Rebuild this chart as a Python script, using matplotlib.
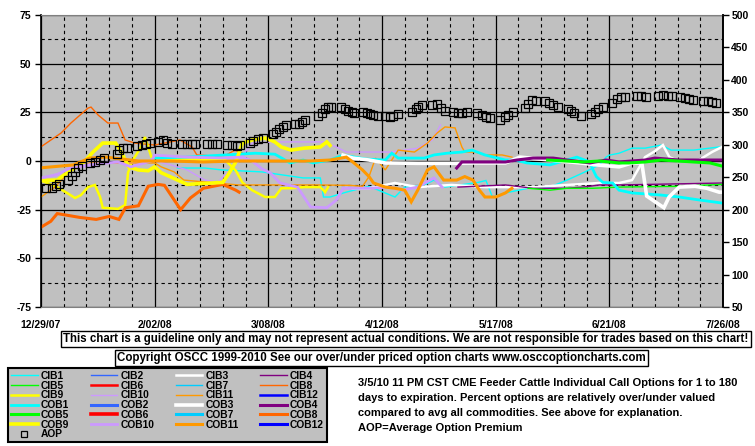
import matplotlib
matplotlib.use("Agg")
import matplotlib.pyplot as plt
from matplotlib.ticker import MultipleLocator
from matplotlib.lines import Line2D

plt.rcParams['font.family'] = ['Liberation Sans', 'DejaVu Sans']
plt.rcParams['font.weight'] = 'bold'
plt.rcParams['axes.unicode_minus'] = False
FS = 7.5

# ── data: x = days since 12/29/07, left axis = % over/under, right axis = AOP ──
x_labels = ['12/29/07', '2/02/08', '3/08/08', '4/12/08', '5/17/08', '6/21/08', '7/26/08']
x_ticks = [0, 35, 70, 105, 140, 175, 210]

cib1_days = [42, 50.5, 55.7, 68, 80.7, 86, 87, 89, 91, 94, 101, 109, 112, 118, 121, 124.4, 134.6, 137, 139, 143,
             150, 156.7, 162, 167, 172, 174, 175, 178, 182, 186, 191, 194, 201, 208.8, 210]
cib1_vals = [-3.6, -3.6, -4.6, -5.6, -8.7, -8.7, -18.5, -18.5, -17.5, -16, -13, -18.5, -13.4, -12.3, -9.8, -13.4, -11, -10, -18.5, -16.4,
             -14, -13.4, -9.8, -6, -2, 2, 3, 4, 6.6, 6.6, 8.2, 5.6, 5.6, 7.2, 7.2]
cob1_days = [35, 45, 55.7, 66, 72, 73.6, 76.7, 80.7, 83.8, 89, 93, 100, 106, 108, 110, 118, 121, 125, 129.6, 132.7,
             136.7, 143, 146, 149.6, 156.7, 165, 169, 170, 171, 173, 176, 178, 182, 191, 196.5, 202.6, 209.7]
cob1_vals = [1.5, 2, 3, 4, 3.5, 2, -1, 0.5, -1, 0.5, 3, 1, 0.5, 4, 1.5, 1.5, 3.1, 4, 4.6, 5.6,
             3.1, 0.5, 0.5, -1, -2, 2, -0.5, -4.6, -8, -11, -11.3, -15, -16.4, -17.5, -18.5, -20, -21.6]

cib3_days = [96, 101, 109, 116, 126.5, 136.7, 141, 151.5, 162, 172, 178, 182, 186, 189, 191.5, 193.5, 196, 202.6, 206.6, 209.7]
cib3_vals = [-14, -14, -11.3, -13.4, -12.3, -13.4, -13.4, -13.4, -12.3, -11.3, -11.3, -9.8, 2, 5, 8.2, 2, 0, 0.5, 4.6, 7.2]
cob3_days = [93, 96, 101, 106, 116, 126.5, 133, 143, 147.5, 156.7, 166, 171, 178, 182, 185, 186.5, 191.8, 193.4, 196.5, 201.4, 205, 208.8, 210]
cob3_vals = [3, 1.5, 0.5, -1, -1.2, -1.2, -1, -1, 2, 0.5, -1, -2, -3, -1, -1, -18, -24, -18.5, -13.4, -13, -14, -16, -16]

cib4_days = [128.4, 143, 151.5, 162, 167, 172, 178, 210]
cib4_vals = [-13.4, -12.3, -14, -14, -13.4, -12.3, -12.3, -11.3]
cob4_days = [128, 129.6, 136.7, 143, 146.5, 151.5, 157.7, 162, 169, 174, 178, 186, 189, 196.5, 210]
cob4_vals = [-3.6, -0.5, -0.5, -0.5, 0.5, 1.5, 1.5, 0.5, -1, 0.5, -0.5, 0.5, 1.5, 0.5, 0.5]

cib5_days = [150, 156.7, 162, 170, 178, 196.5, 210]
cib5_vals = [-14, -15, -14, -14, -13.4, -13, -12]
cob5_days = [156, 167, 172, 178, 181, 186, 191, 201, 206, 209.7]
cob5_vals = [0.5, -0.5, 0, -1, -1, -0.5, 0.5, -0.5, -1, -2.6]

cib8_days = [0, 6.2, 9.2, 14.5, 15.4, 17.6, 20.6, 23.7, 25.9, 28.9, 35, 42.8, 46.5, 48, 53.6, 57, 59.7, 62]
cib8_vals = [7.3, 14.4, 19.5, 27.2, 27.7, 23.6, 19.5, 19.5, 10.8, 9.2, 8.2, 10.8, 7.2, 3.1, 2.5, 3, 5.6, 4]
cob8_days = [0, 3, 5, 12, 17, 21, 24, 26, 30, 33, 36, 38, 41, 43, 46, 50, 56, 60, 61]
cob8_vals = [-34, -31, -27, -29, -30, -28.5, -30, -24, -23, -13, -12, -12.5, -20, -25, -19, -14, -12, -15, -16]

cib9_days = [0, 5, 8, 10.5, 12.3, 14.5, 16.6, 18.2, 19, 23.7, 25.9, 26.8, 28.3, 30.8, 32, 34, 40, 45, 50, 56.7,
             60, 62, 65, 69, 72, 74, 77, 81, 86, 87.5, 88.4]
cib9_vals = [-10, -13.4, -16.4, -19, -17.5, -13.4, -12.3, -18.5, -24, -24.6, -22.6, -6, 0.5, 7.2, 12.3, 2, 1, 1, 0.5, 0.5,
             -5, -11, -15, -18.5, -18.5, -14, -14, -13.4, -13.4, -16, -13.4]
cob9_days = [0, 5, 8, 13, 16, 19, 23, 24, 26, 27, 30, 33, 35, 37, 45, 56, 58, 60, 62, 65, 69, 72, 74, 77, 81, 86, 88, 89]
cob9_vals = [-10, -9.8, -6, -1, 4.6, 9.2, 9.2, 6.6, 0.5, -3, -4.6, -5, -3, -6, -12, -11, -6, -0.5, 9.2, 10.8, 11.8, 9.8,
             7.2, 5.6, 6.6, 7.2, 9.8, 8]

cib10_days = [0, 10, 20, 30, 35, 40, 45, 50.5, 54.5, 60.7, 65, 72, 75.7, 87, 91, 94, 101, 107.5, 116, 120.5, 123]
cib10_vals = [-9, -4, -1, -1, 0, -2, -4.6, -9.8, -10.8, -0.5, 9.2, 9.8, 9.8, 9.8, 7.2, 4.6, 4.6, 4.6, 6.6, 10.8, 18.5]
cob10_days = [0, 5, 9, 14.5, 23.7, 27.7, 34, 35, 45, 55.7, 62, 65, 68, 70.5, 73.6, 79, 81, 83, 88, 91, 93, 101,
              107.5, 111, 116, 121, 123.5]
cob10_vals = [-8.7, -7, -3.6, -2, -0.5, -3, 0, 3, 2, 1.5, 2, 0, -4, -6, -11.3, -13.4, -18.5, -23.6, -24, -20, -14, -14,
              -13.4, -15, -13.4, -8.7, -13.4]

cib11_days = [0, 4.3, 9, 15, 25, 35, 37, 41, 44, 50.5, 60.7, 72, 85, 95, 99, 101, 103, 106, 110, 115, 119, 122,
              124.4, 127.5, 129.6, 130.5, 133.6, 136.7, 142, 145]
cib11_vals = [-18.5, -13.4, -5, -1, -1, -1, -3, -5.6, -9.8, -10.8, -12.3, -12.3, -12.3, -12.5, -13, -8, 1.5, -4.6, 5.6,
              4.6, 9.2, 14.4, 17.5, 17, 7.2, 4.6, 4.6, 3.1, 3.1, 2]
cob11_days = [0, 10, 15, 20, 30, 40, 50, 60, 70.5, 83, 89, 94, 96, 99, 101, 102.4, 106, 109, 112, 114, 116, 119, 121,
              124, 128, 130.5, 133, 135, 136.7, 140, 143, 145]
cob11_vals = [-3.5, -2, 1.5, 2, 0, 0, -0.5, 0, 0, 0, 0.5, 2, -0.5, -4.6, -8, -11.3, -13.4, -14, -15, -21, -15, -4.6, -3,
              -9.8, -9.8, -8, -9.8, -15, -18.5, -18.5, -16.4, -14]

aop_days = [1.5, 3.4, 4.6, 5.5, 8.3, 9.5, 10.5, 11.4, 12.6, 15.1, 16.6, 18.2, 19.4, 23.4, 24.0, 25.2, 26.5, 29.6, 31.1,
            32.3, 33.6, 36.0, 37.6, 38.8, 40.3, 43.4, 45.0, 46.5, 47.4, 51.1, 52.7, 54.2, 57.3, 58.8, 60.4, 61.3, 64.4,
            65.3, 66.8, 68.4, 71.4, 72.4, 73.3, 74.5, 75.4, 78.2, 79.4, 80.4, 81.3, 85.3, 86.5, 87.4, 88.4, 89.3, 92.4,
            93.6, 94.5, 95.8, 96.4, 99.2, 100.4, 101.3, 102.2, 103.8, 105.9, 107.5, 108.4, 109.9, 114.2, 115.5, 116.1,
            117.3, 120.4, 121.9, 123.2, 124.4, 126.9, 128.4, 129.6, 131.2, 134.3, 135.8, 137.0, 138.3, 141.3, 142.9,
            143.8, 145.3, 149.0, 150.0, 151.2, 152.4, 155.2, 156.4, 157.7, 159.2, 162.3, 163.2, 164.1, 166.3, 169.4,
            170.6, 171.5, 173.1, 175.8, 177.4, 178.6, 179.8, 183.5, 184.8, 186.3, 190.0, 191.5, 193.1, 194.3, 196.8,
            198.3, 199.5, 200.8, 203.8, 205.4, 206.6, 207.9]
aop_vals = [233, 233, 236, 240, 246, 252, 258, 264, 267, 272, 273, 276, 280, 286, 292, 295, 295, 298, 300,
            301, 303, 304, 307, 303, 301, 301, 301, 301, 301, 301, 301, 301, 300, 300, 298, 300, 303,
            306, 309, 310, 317, 320, 324, 327, 330, 332, 332, 335, 338, 344, 349, 355, 358, 358, 358,
            355, 352, 350, 349, 350, 349, 347, 346, 344, 344, 343, 344, 347, 350, 355, 358,
            361, 361, 363, 357, 352, 350, 349, 349, 350, 349, 346, 343, 341, 338, 343,
            346, 350, 356, 363, 369, 367, 367, 364, 361, 358, 355, 352, 349, 344, 347,
            350, 355, 358, 364, 371, 374, 374, 375, 375, 374, 375, 377, 375, 375, 374,
            372, 370, 369, 367, 367, 366, 364]

series = [
    ('CIB1', cib1_days, cib1_vals), ('CIB2', [], []), ('CIB3', cib3_days, cib3_vals), ('CIB4', cib4_days, cib4_vals),
    ('CIB5', cib5_days, cib5_vals), ('CIB6', [], []), ('CIB7', [], []), ('CIB8', cib8_days, cib8_vals),
    ('CIB9', cib9_days, cib9_vals), ('CIB10', cib10_days, cib10_vals), ('CIB11', cib11_days, cib11_vals), ('CIB12', [], []),
    ('COB1', cob1_days, cob1_vals), ('COB2', [], []), ('COB3', cob3_days, cob3_vals), ('COB4', cob4_days, cob4_vals),
    ('COB5', cob5_days, cob5_vals), ('COB6', [], []), ('COB7', [], []), ('COB8', cob8_days, cob8_vals),
    ('COB9', cob9_days, cob9_vals), ('COB10', cob10_days, cob10_vals), ('COB11', cob11_days, cob11_vals), ('COB12', [], []),
]
colors = ['#00FFFF', '#3366FF', '#FFFFFF', '#800080', '#00FF00', '#FF0000',
          '#00CCFF', '#FF6600', '#FFFF00', '#CC99FF', '#FF9900', '#0000FF']
thin_w = [1.0, 1.0, 1.8, 1.0, 1.0, 1.8, 1.0, 1.0, 1.8, 1.0, 1.0, 1.8]
thick_w = [2.0, 2.2, 2.6, 2.2, 2.2, 2.6, 2.2, 2.2, 2.6, 2.0, 2.2, 2.2]

# ── figure ──
fig = plt.figure(figsize=(7.55, 4.46), dpi=100)
ax = fig.add_axes([41 / 755, 1 - 307 / 446, 682 / 755, 292 / 446])
ax.set_facecolor('#C0C0C0')
ax.set_xlim(0, 210)
ax.set_ylim(-75, 75)
ax.set_xticks(x_ticks, x_labels, fontsize=FS)
ax.xaxis.set_minor_locator(MultipleLocator(7))
ax.yaxis.set_major_locator(MultipleLocator(25))
ax.yaxis.set_minor_locator(MultipleLocator(12.5))
ax.tick_params(axis='x', which='both', length=0, pad=9)
ax.tick_params(axis='y', which='major', length=4, width=1, pad=3, labelsize=FS)
ax.tick_params(axis='y', which='minor', length=0)
ax.set_axisbelow(True)
ax.grid(which='major', color='black', lw=0.9, ls='-')
ax.grid(which='minor', color='black', lw=0.8, ls=(0, (3, 3)))
for s in ['top', 'bottom']:
    ax.spines[s].set_color('#808080')
ax.spines['left'].set_linewidth(1.2)
ax.spines['right'].set_linewidth(1.2)

handles = {}
for i, (name, d, v) in enumerate(series):
    k = i % 12
    lw = thin_w[k] if name.startswith('CIB') else thick_w[k]
    line, = ax.plot(d, v, color=colors[k], lw=lw, solid_joinstyle='miter')
    handles[name] = line

ax2 = ax.twinx()
ax2.set_ylim(50, 500)
ax2.yaxis.set_major_locator(MultipleLocator(50))
ax2.tick_params(axis='y', length=4, width=1, pad=2, labelsize=FS)
for s in ['top', 'bottom', 'left']:
    ax2.spines[s].set_visible(False)
ax2.spines['right'].set_linewidth(1.2)
aop, = ax2.plot(aop_days, aop_vals, ls='none', marker='s', ms=5.3, mfc='none', mec='black', mew=0.9)
handles['AOP'] = Line2D([], [], ls='none', marker='s', ms=4, mfc='none', mec='black', mew=0.9)

# legend laid out row by row like the original (4 columns)
order = ['CIB1', 'CIB5', 'CIB9', 'COB1', 'COB5', 'COB9', 'AOP',
         'CIB2', 'CIB6', 'CIB10', 'COB2', 'COB6', 'COB10',
         'CIB3', 'CIB7', 'CIB11', 'COB3', 'COB7', 'COB11',
         'CIB4', 'CIB8', 'CIB12', 'COB4', 'COB8', 'COB12']
leg = fig.legend([handles[n] for n in order], order, loc='upper left', ncol=4, mode='expand',
                 bbox_to_anchor=(8 / 755, 1 - 441 / 446, 319 / 755, 73 / 446), borderaxespad=0,
                 fontsize=7.4, handlelength=2.6, handletextpad=0.3, labelspacing=-0.03, borderpad=0.3,
                 fancybox=False, framealpha=1, facecolor='#C0C0C0', edgecolor='black')
leg.get_frame().set_linewidth(1.5)

fig.text(406 / 755, 1 - 339 / 446,
         'This chart is a guideline only and may not represent actual conditions. We are not responsible for trades based on this chart!',
         ha='center', va='center', fontsize=8.3,
         bbox=dict(boxstyle='square,pad=0.2', fc='white', ec='black', lw=1))
fig.text(381.5 / 755, 1 - 358 / 446,
         'Copyright OSCC 1999-2010 See our over/under priced option charts www.osccoptioncharts.com',
         ha='center', va='center', fontsize=8.3,
         bbox=dict(boxstyle='square,pad=0.2', fc='white', ec='black', lw=1))

note_lines = ['3/5/10 11 PM CST CME Feeder Cattle Individual Call Options for 1 to 180',
              'days to expiration. Percent options are relatively over/under valued',
              'compared to avg all commodities. See above for explanation.',
              'AOP=Average Option Premium']
for i, t in enumerate(note_lines):
    fig.text(358 / 755, 1 - (383 + 15 * i) / 446, t, ha='left', va='center', fontsize=8.0)

plt.savefig('out.png', dpi=100)
